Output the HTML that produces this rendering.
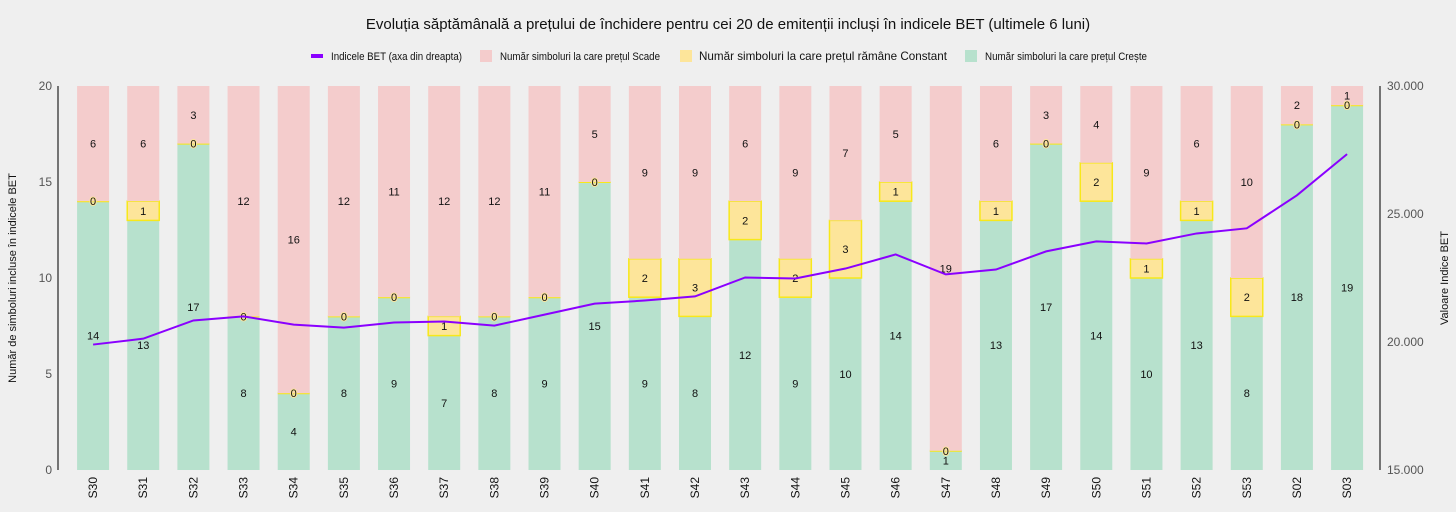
<!DOCTYPE html>
<html><head><meta charset="utf-8"><style>
body{margin:0;background:#efefef;font-family:"Liberation Sans",sans-serif;}
svg{display:block}
</style></head><body>
<svg id="chart" width="1456" height="512">
<text x="728" y="29" text-anchor="middle" font-size="15" fill="#111">Evoluția săptămânală a prețului de închidere pentru cei 20 de emitenții incluși în indicele BET (ultimele 6 luni)</text>
<g font-size="11" fill="#111">
<g><rect x="311" y="54" width="12" height="4" fill="#8a00ff"/><text x="331" y="60" textLength="131" lengthAdjust="spacingAndGlyphs">Indicele BET (axa din dreapta)</text></g>
<g><rect x="480" y="50" width="12" height="12" fill="#f4cccc"/><text x="500" y="60" textLength="160" lengthAdjust="spacingAndGlyphs">Număr simboluri la care prețul Scade</text></g>
<g><rect x="680" y="50" width="12" height="12" fill="#fde59a"/><text x="699" y="60" font-size="12" textLength="248" lengthAdjust="spacingAndGlyphs">Număr simboluri la care prețul rămâne Constant</text></g>
<g><rect x="965" y="50" width="12" height="12" fill="#b7e1cd"/><text x="985" y="60" textLength="162" lengthAdjust="spacingAndGlyphs">Număr simboluri la care prețul Crește</text></g>
</g>
<g id="bars"></g>
<g id="labels"></g>
<g id="axes"></g>
<g id="line"></g>
<text transform="translate(16,278) rotate(-90)" text-anchor="middle" font-size="11" fill="#111">Număr de simboluri incluse în indicele BET</text>
<text transform="translate(1448,278) rotate(-90)" text-anchor="middle" font-size="11" fill="#111">Valoare Indice BET</text>
</svg>
<script>
const categories=["S30","S31","S32","S33","S34","S35","S36","S37","S38","S39","S40","S41","S42","S43","S44","S45","S46","S47","S48","S49","S50","S51","S52","S53","S02","S03"];
const creste=[14,13,17,8,4,8,9,7,8,9,15,9,8,12,9,10,14,1,13,17,14,10,13,8,18,19];
const constant=[0,1,0,0,0,0,0,1,0,0,0,2,3,2,2,3,1,0,1,0,2,1,1,2,0,0];
const scade=[6,6,3,12,16,12,11,12,12,11,5,9,9,6,9,7,5,19,6,3,4,9,6,10,2,1];
const bet=[19900,20130,20840,21000,20680,20560,20760,20800,20640,21070,21500,21620,21780,22520,22480,22870,23420,22640,22830,23540,23930,23850,24240,24440,25730,27340];
const leftTicks=[0,5,10,15,20];
const rightTicks=[15000,20000,25000,30000];
const rightTickLabels=["15.000","20.000","25.000","30.000"];
const NS="http://www.w3.org/2000/svg";
const plotTop=86,plotBot=470,x0=68,step=50.16,bw=32;
const yL=v=>plotBot-(v/20)*(plotBot-plotTop);
const yR=v=>plotBot-((v-15000)/15000)*(plotBot-plotTop);
const xC=i=>x0+step*(i+0.5);
function mk(tag,attrs,parent){const e=document.createElementNS(NS,tag);for(const k in attrs)e.setAttribute(k,attrs[k]);parent.appendChild(e);return e;}
const gb=document.getElementById('bars'),gt=document.getElementById('labels'),ga=document.getElementById('axes'),gl=document.getElementById('line');
categories.forEach((c,i)=>{
  const cx=xC(i),x=cx-bw/2;
  const segs=[[0,creste[i],'#b7e1cd','none','creste'],[creste[i],creste[i]+constant[i],'#fde59a','#f7e81a','constant'],[creste[i]+constant[i],creste[i]+constant[i]+scade[i],'#f4cccc','none','scade']];
  segs.forEach(s=>{
    const y1=yL(s[1]),y0=yL(s[0]);
    if(s[4]=='constant' && s[1]==s[0]){
      const ln=mk('line',{x1:x,x2:x+bw,y1:y0,y2:y0,stroke:'#f7e81a','stroke-width':2},gb);
      
      
    } else {
      const r=mk('rect',{x:x,y:y1,width:bw,height:Math.max(y0-y1,0),fill:s[2],stroke:s[3],'stroke-width':s[4]=='constant'?1.5:0},gb);
      
      
    }
    const t=mk('text',{x:cx,y:(y0+y1)/2+4,'text-anchor':'middle','font-size':11,fill:'#111',stroke:s[4]=='constant'?'#fde59a':'none','stroke-width':2,'paint-order':'stroke'},gt);
    t.textContent=s[1]-s[0];
    
    
  });
  const lt=mk('text',{transform:`translate(${cx+4},${477}) rotate(-90)`,'text-anchor':'end','font-size':12,fill:'#111'},ga);
  lt.textContent=c;
  
  
});
const al=mk('line',{x1:58,y1:plotTop,x2:58,y2:plotBot,stroke:'#222','stroke-width':1.2},ga);


const ar=mk('line',{x1:1380,y1:plotTop,x2:1380,y2:plotBot,stroke:'#222','stroke-width':1.2},ga);


leftTicks.forEach(v=>{const t=mk('text',{x:52,y:yL(v)+4,'text-anchor':'end','font-size':12,fill:'#555'},ga);t.textContent=v;

});
rightTicks.forEach((v,i)=>{const t=mk('text',{x:1387,y:yR(v)+4,'font-size':12,fill:'#555'},ga);t.textContent=rightTickLabels[i];

});
const pts=bet.map((v,i)=>xC(i)+','+yR(v)).join(' ');
const pl=mk('polyline',{points:pts,fill:'none',stroke:'#8a00ff','stroke-width':2},gl);


</script>
</body></html>
